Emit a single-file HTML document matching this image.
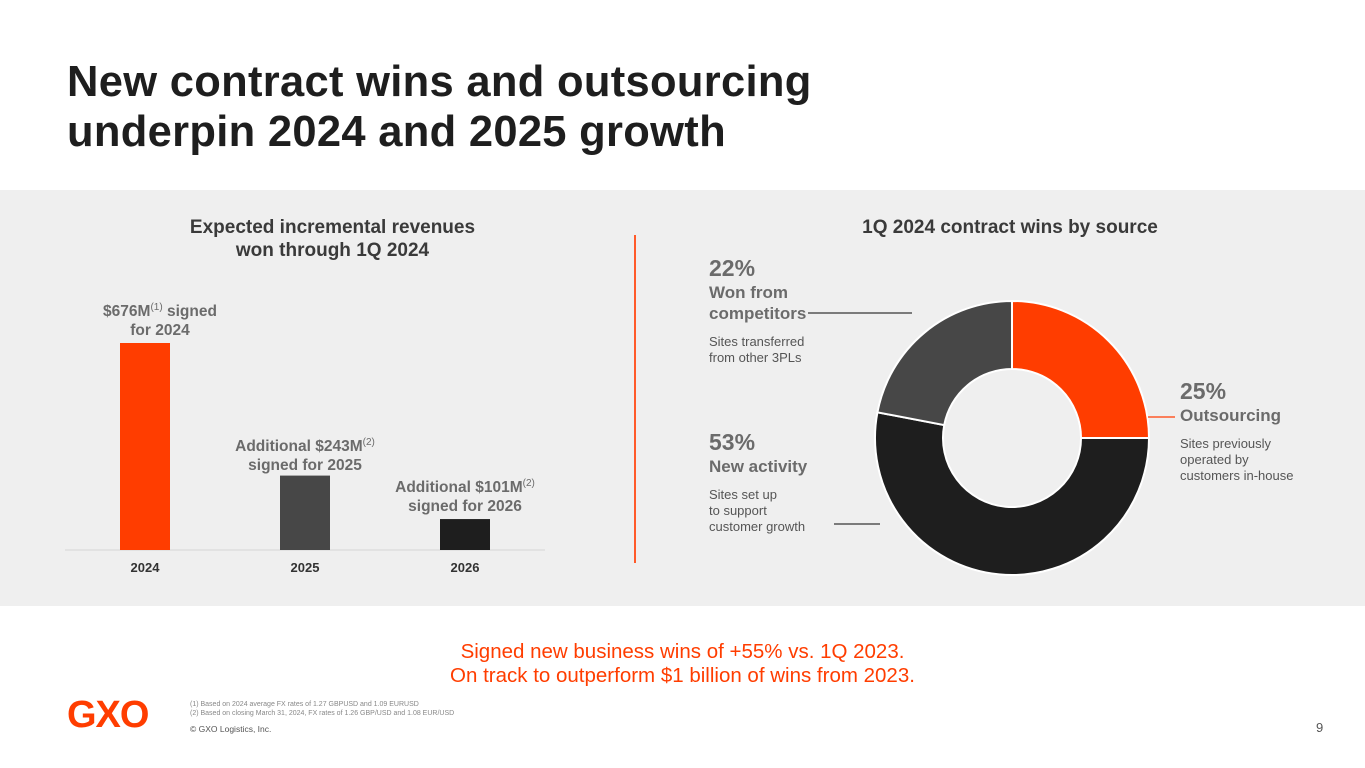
<!DOCTYPE html>
<html><head><meta charset="utf-8">
<style>
*{margin:0;padding:0;box-sizing:border-box}
body{width:1365px;height:768px;background:#fff;font-family:"Liberation Sans",sans-serif;position:relative;overflow:hidden;color:#1e1e1e}
.a{position:absolute}
.title{left:67px;top:57px;font-size:43.5px;font-weight:bold;line-height:50px;color:#1e1e1e;letter-spacing:0.3px}
.panel{left:0;top:190px;width:1365px;height:416px;background:#efefef}
.h{font-size:19px;font-weight:bold;color:#3a3a3a;text-align:center;line-height:23px}
.lbl{font-size:15.5px;font-weight:bold;color:#6b6b6b;text-align:center;line-height:19px;white-space:nowrap}
.lbl sup{font-weight:normal;font-size:10px}
.pct{font-size:23px;font-weight:bold;color:#6b6b6b}
.cat{font-size:17px;font-weight:bold;color:#6b6b6b;line-height:21px}
.desc{font-size:13px;color:#555;line-height:16px}
.bottom{left:0;width:1365px;top:640px;text-align:center;font-size:20.5px;color:#ff3d00;line-height:24px}
.fn{left:190px;top:700px;font-size:7px;color:#888;line-height:9px}
</style></head><body>
<div class="a title">New contract wins and outsourcing<br>underpin 2024 and 2025 growth</div>
<div class="a panel"></div>
<div class="a h" style="left:130px;top:216px;width:405px">Expected incremental revenues<br>won through 1Q 2024</div>
<div class="a h" style="left:800px;top:216px;width:420px">1Q 2024 contract wins by source</div>
<div class="a" style="left:634px;top:235px;width:2px;height:328px;background:#ff5a2a"></div>

<svg class="a" id="bars" style="left:0;top:0" width="640" height="606"></svg>
<div class="a lbl" style="left:60px;top:298px;width:200px">$676M<sup>(1)</sup> signed<br>for 2024</div>
<div class="a lbl" style="left:205px;top:433px;width:200px">Additional $243M<sup>(2)</sup><br>signed for 2025</div>
<div class="a lbl" style="left:365px;top:474px;width:200px">Additional $101M<sup>(2)</sup><br>signed for 2026</div>

<svg class="a" id="donut" style="left:640px;top:190px" width="725" height="416"></svg>
<div class="a" style="left:709px;top:255px">
<div class="pct">22%</div><div class="cat">Won from<br>competitors</div><div class="desc" style="margin-top:10px">Sites transferred<br>from other 3PLs</div></div>
<div class="a" style="left:709px;top:429px">
<div class="pct">53%</div><div class="cat">New activity</div><div class="desc" style="margin-top:10px">Sites set up<br>to support<br>customer growth</div></div>
<div class="a" style="left:1180px;top:378px">
<div class="pct">25%</div><div class="cat">Outsourcing</div><div class="desc" style="margin-top:10px">Sites previously<br>operated by<br>customers in-house</div></div>

<div class="a bottom">Signed new business wins of +55% vs. 1Q 2023.<br>On track to outperform $1 billion of wins from 2023.</div>
<div class="a" style="left:67px;top:694px;font-size:38px;font-weight:bold;color:#ff3d00;letter-spacing:-1px;line-height:42px">GXO</div>
<div class="a fn">(1) Based on 2024 average FX rates of 1.27 GBPUSD and 1.09 EURUSD<br>(2) Based on closing March 31, 2024, FX rates of 1.26 GBP/USD and 1.08 EUR/USD</div>
<div class="a" style="left:190px;top:724px;font-size:8.5px;color:#555">© GXO Logistics, Inc.</div>
<div class="a" style="left:1316px;top:720px;font-size:13px;color:#555">9</div>

<script>
const years=["2024","2025","2026"];
const revenues=[676,243,101];
const barColors=["#ff3d00","#474747","#1e1e1e"];
const shareLabels=["Outsourcing","New activity","Won from competitors"];
const shares=[25,53,22];
const shareColors=["#ff3d00","#1e1e1e","#474747"];
const NS="http://www.w3.org/2000/svg";
function mk(t,a,p){const e=document.createElementNS(NS,t);for(const k in a)e.setAttribute(k,a[k]);p.appendChild(e);return e;}
const bs=document.getElementById('bars');
const base=550, scale=207/676;
const xc=i=>145+i*160;
const y=v=>base-v*scale;
const ax=mk('line',{x1:65,x2:545,y1:base,y2:base,stroke:'#d6d6d6','stroke-width':1},bs);


years.forEach((yr,i)=>{
 const r=mk('rect',{x:xc(i)-25,y:y(revenues[i]),width:50,height:base-y(revenues[i]),fill:barColors[i]},bs);
 
 
 const t=mk('text',{x:xc(i),y:572,'text-anchor':'middle','font-size':13,'font-weight':'bold',fill:'#333','font-family':'Liberation Sans'},bs);
 t.textContent=yr;
 
 
});
const ds=document.getElementById('donut');
const cx=372,cy=248,R=137,r=69;
const tot=shares.reduce((a,b)=>a+b,0);
let a0=0;
function pt(rad,ang){return [cx+rad*Math.sin(ang),cy-rad*Math.cos(ang)];}
shares.forEach((s,i)=>{
 const a1=a0+s/tot*2*Math.PI;
 const lg=(a1-a0)>Math.PI?1:0;
 const [x1,y1]=pt(R,a0),[x2,y2]=pt(R,a1),[x3,y3]=pt(r,a1),[x4,y4]=pt(r,a0);
 const p=mk('path',{d:`M${x1},${y1}A${R},${R} 0 ${lg} 1 ${x2},${y2}L${x3},${y3}A${r},${r} 0 ${lg} 0 ${x4},${y4}Z`,fill:shareColors[i],stroke:'#fff','stroke-width':2},ds);
 
 
 a0=a1;
});
const leaders=[[508,227,535,227,'#ff5a2a'],[168,123,272,123,'#555'],[194,334,240,334,'#555']];
leaders.forEach((l,i)=>{
 const e=mk('line',{x1:l[0],y1:l[1],x2:l[2],y2:l[3],stroke:l[4],'stroke-width':1.5},ds);
 
 
});
</script>
</body></html>
